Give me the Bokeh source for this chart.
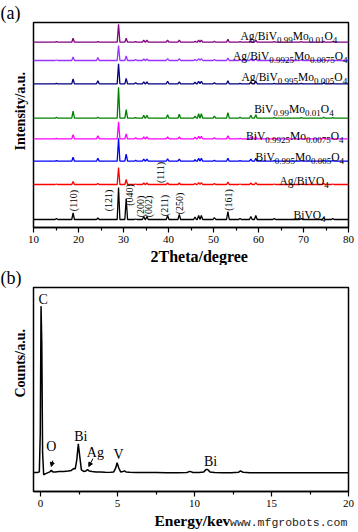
from bokeh.plotting import figure
from bokeh.models import Range1d, FixedTicker, Arrow, NormalHead, ColumnDataSource, Title, Div
from bokeh.layouts import column
from bokeh.embed import file_html
from bokeh.resources import INLINE
from bokeh.core.properties import value

SERIF = "Liberation Serif"

# ---------------- Panel (a): XRD patterns ----------------
peak_2theta = [15.1, 18.8, 24.3, 28.9, 30.6, 32.7, 34.5, 35.2, 39.8, 42.4, 45.9,
               46.7, 47.3, 50.2, 53.2, 55.9, 58.3, 59.4, 63.5, 69.5, 74.5, 76.5]

h_bivo4      = [1, 6.5, 1.5, 32, 21, 0.5, 3, 3, 4, 5, 2.5, 4, 4, 2, 8, 1, 3, 4, 1, 1, 2, 1]
h_ag_bivo4   = [0.5, 3, 1, 17, 5, 0.5, 1.5, 1.5, 1.5, 1.5, 1, 2, 2, 1, 2.5, 0.5, 1.5, 2, 0.5, 0.5, 1, 0.5]
h_mo005      = [0.5, 4, 3, 23, 7, 1, 2, 2, 2.5, 2, 1.5, 3, 3, 1, 3, 0.5, 2, 3, 0.5, 0.5, 1, 0.5]
h_mo0075     = [0.5, 4, 3, 17, 5, 1, 2, 2, 2, 2, 1.5, 2.5, 2.5, 1, 3, 0.5, 2, 2, 0.5, 0.5, 1, 0.5]
h_mo01       = [1, 7, 1, 31, 8.5, 0.5, 3, 3, 3.5, 4, 2, 4.5, 4.5, 2, 5.5, 1, 3, 3.5, 0.5, 0.5, 1, 0.5]
h_ag_mo005   = [0.5, 5, 3, 20, 5.5, 1, 2, 2, 2.5, 2, 1.5, 2.5, 2.5, 1, 3, 0.5, 2, 2.5, 0.5, 0.5, 1, 0.5]
h_ag_mo0075  = [0.5, 3.5, 3, 15, 4.5, 1, 1.5, 1.5, 2, 2, 1, 2, 2, 1, 2.5, 0.5, 1.5, 2, 0.5, 0.5, 1, 0.5]
h_ag_mo01    = [0.5, 4, 0.5, 18, 4, 0.5, 2, 2, 2, 2, 1, 2, 2, 1, 3, 0.5, 1.5, 2, 0.5, 0.5, 1, 0.5]

series_heights = [h_bivo4, h_ag_bivo4, h_mo005, h_mo0075, h_mo01, h_ag_mo005, h_ag_mo0075, h_ag_mo01]
series_offsets = [8, 43, 66.3, 88.7, 109.3, 143.7, 167, 185.3]
series_colors = ["#000000", "#FF0000", "#0000FF", "#FF00FF", "#008000", "#000080", "#9933FF", "#800080"]

# series labels: (parts, right-edge 2theta, baseline y)
series_labels = [
    ([("BiVO", 0), ("4", 1)], 74.9, 12.7),
    ([("Ag/BiVO", 0), ("4", 1)], 75.6, 46.3),
    ([("BiV", 0), ("0.995", 1), ("Mo", 0), ("0.005", 1), ("O", 0), ("4", 1)], 79.0, 70.3),
    ([("BiV", 0), ("0.9925", 1), ("Mo", 0), ("0.0075", 1), ("O", 0), ("4", 1)], 78.9, 92.0),
    ([("BiV", 0), ("0.99", 1), ("Mo", 0), ("0.01", 1), ("O", 0), ("4", 1)], 76.7, 118.7),
    ([("Ag/BiV", 0), ("0.995", 1), ("Mo", 0), ("0.005", 1), ("O", 0), ("4", 1)], 79.7, 150.3),
    ([("Ag/BiV", 0), ("0.9925", 1), ("Mo", 0), ("0.0075", 1), ("O", 0), ("4", 1)], 79.8, 172.0),
    ([("Ag/BiV", 0), ("0.99", 1), ("Mo", 0), ("0.01", 1), ("O", 0), ("4", 1)], 77.5, 191.5),
]

hkl_text = ["(110)", "(121)", "(040)", "(200)", "(002)", "(211)", "(250)", "(161)", "(111)"]
hkl_x = [18.8, 26.7, 31.3, 33.8, 35.5, 39.2, 42.4, 53.3, 38.2]
hkl_y = [27, 27, 32.5, 21, 21, 22, 24, 27.5, 55]

xrd_ticks = [10, 20, 30, 40, 50, 60, 70, 80]
xrd_minor = [15, 25, 35, 45, 55, 65, 75]

# ---------------- Panel (b): EDS spectrum ----------------
energy = [-0.45, -0.2, -0.08, -0.02, 0.03, 0.08, 0.13, 0.2, 0.3, 0.45, 0.6, 0.7, 0.8, 0.95,
          1.2, 1.5, 1.8, 2.0, 2.15, 2.25, 2.35, 2.45, 2.55, 2.65, 2.8, 2.95, 3.05, 3.15,
          3.35, 3.6, 3.9, 4.2, 4.5, 4.75, 4.88, 4.97, 5.08, 5.2, 5.35, 5.45, 5.55, 5.8,
          6.2, 6.8, 7.5, 8.2, 8.9, 9.5, 9.7, 9.9, 10.3, 10.6, 10.75, 10.85, 11.0, 11.3,
          11.8, 12.4, 12.85, 12.98, 13.15, 13.6, 14.5, 15.5, 16.5, 17.5, 18.5, 19.5, 20.0]
counts = [19.3, 19.3, 20, 60, 189, 150, 40, 17, 18, 19, 20, 21.5, 20, 20,
          20.3, 20.5, 21, 21.5, 23.5, 23, 32, 48.5, 35, 22, 20.5, 21, 22.5, 21,
          20.5, 20, 19.8, 19.6, 19.5, 20, 24, 29.3, 24, 20, 20.3, 21, 20, 19.6,
          19.4, 19.3, 19.3, 19.2, 19.2, 19.4, 20.5, 19.4, 19.3, 20, 22.5, 22.5, 20, 19.3,
          19.2, 19.2, 19.6, 21, 19.6, 19.2, 19.2, 19.2, 19.2, 19.2, 19.2, 19.2, 19.2]

eds_text = ["C", "O", "Bi", "Ag", "V", "Bi"]
eds_x = [0.17, 0.70, 2.61, 3.56, 5.06, 11.04]
eds_y = [196, 46, 56.3, 39.5, 38, 31]

eds_ticks = [0, 5, 10, 15, 20]
eds_minor = [2.5, 7.5, 12.5, 17.5]

# Times (Liberation Serif) advance widths, in em
TW = {'A': .722, 'g': .5, '/': .278, 'B': .667, 'i': .278, 'V': .722, 'M': .889,
      'o': .5, 'O': .722, '.': .25}
for d in "0123456789":
    TW[d] = .5

MAIN_PX = 11.5
SUB_PX = 9.0
SUB_DROP = 4.0


def style_frame(p, panel_tag, ylab, ylab_offset, xlab, xlab_offset, xlab_size):
    p.xgrid.visible = False
    p.ygrid.visible = False
    p.yaxis.visible = False
    p.outline_line_color = "black"
    p.outline_line_width = 1.5
    p.outline_line_alpha = 1.0
    p.background_fill_color = "white"
    p.border_fill_color = "white"
    ax = p.xaxis[0]
    ax.axis_line_color = "black"
    ax.axis_line_width = 1.5
    ax.major_tick_in = 0
    ax.major_tick_out = 5
    ax.minor_tick_in = 0
    ax.minor_tick_out = 3
    ax.major_tick_line_width = 1.2
    ax.minor_tick_line_width = 1.2
    ax.major_label_text_font = SERIF
    ax.major_label_text_font_size = "11px"
    ax.major_label_text_color = "black"
    ax.major_label_standoff = 3
    # panel tag "(a)" / "(b)"
    p.title.text = panel_tag
    p.title.align = "left"
    p.title.offset = -33
    p.title.standoff = 0
    p.title.text_font = SERIF
    p.title.text_font_size = "18px"
    p.title.text_font_style = "normal"
    p.title.text_color = "black"
    # y label (starts 'offset' px above the frame bottom)
    p.add_layout(Title(text=ylab, align="left", offset=ylab_offset, standoff=12,
                       text_font=SERIF, text_font_size="14px", text_font_style="bold",
                       text_color="black"), "left")
    # x label (starts 'offset' px right of the frame left)
    p.add_layout(Title(text=xlab, align="left", offset=xlab_offset, standoff=0,
                       text_font=SERIF, text_font_size=xlab_size, text_font_style="bold",
                       text_color="black"), "below")


# ---------------- build panel (a) ----------------
pa = figure(width=358, height=265, output_backend="svg", toolbar_location=None,
            x_range=Range1d(10, 80), y_range=Range1d(0, 205),
            min_border_left=33, min_border_right=10, min_border_top=22, min_border_bottom=38)
style_frame(pa, "(a)", "Intensity/a.u.", 77, "2Theta/degree", 117, "16px")
pa.xaxis[0].ticker = FixedTicker(ticks=xrd_ticks, minor_ticks=xrd_minor)

HW = 0.3
for heights, off, col in zip(series_heights, series_offsets, series_colors):
    xs, ys = [10.0], [off]
    for pk, h in zip(peak_2theta, heights):
        xs += [pk - HW, pk, pk + HW]
        ys += [off, off + h, off]
    xs.append(80.0)
    ys.append(off)
    pa.line(xs, ys, line_color=col, line_width=1.3)

# formula labels with subscripts, right-aligned
main_src = dict(x=[], y=[], t=[], dx=[])
sub_src = dict(x=[], y=[], t=[], dx=[])
for parts, xr, yb in series_labels:
    widths = []
    for txt, is_sub in parts:
        size = SUB_PX if is_sub else MAIN_PX
        widths.append(sum(TW[c] for c in txt) * size)
    total = sum(widths)
    cur = -total
    for (txt, is_sub), w in zip(parts, widths):
        d = sub_src if is_sub else main_src
        d["x"].append(xr)
        d["y"].append(yb)
        d["t"].append(txt)
        d["dx"].append(cur)
        cur += w

pa.text(x="x", y="y", text="t", x_offset="dx", source=ColumnDataSource(main_src),
        text_font=value(SERIF), text_font_size=value(f"{MAIN_PX}px"), text_color="black",
        text_align="left", text_baseline="alphabetic")
pa.text(x="x", y="y", text="t", x_offset="dx", y_offset=SUB_DROP, source=ColumnDataSource(sub_src),
        text_font=value(SERIF), text_font_size=value(f"{SUB_PX}px"), text_color="black",
        text_align="left", text_baseline="alphabetic")

pa.text(x=hkl_x, y=hkl_y, text=hkl_text, angle=1.5708,
        text_font=value(SERIF), text_font_size=value("10px"), text_color="black",
        text_align="center", text_baseline="middle")

# ---------------- build panel (b) ----------------
pb = figure(width=358, height=267, output_backend="svg", toolbar_location=None,
            x_range=Range1d(-0.46, 20), y_range=Range1d(0, 208),
            min_border_left=33, min_border_right=10, min_border_top=18, min_border_bottom=41)
style_frame(pb, "(b)", "Counts/a.u.", 94, "Energy/kev", 121, "15.5px")
pb.xaxis[0].ticker = FixedTicker(ticks=eds_ticks, minor_ticks=eds_minor)

pb.line(energy, counts, line_color="black", line_width=1.5)
pb.text(x=eds_x, y=eds_y, text=eds_text,
        text_font=value(SERIF), text_font_size=value("14px"), text_color="black",
        text_align="center", text_baseline="middle")

pb.add_layout(Arrow(x_start=0.79, y_start=31.5, x_end=0.70, y_end=25.5, line_width=1,
                    end=NormalHead(size=4, fill_color="black", line_color="black")))
pb.add_layout(Arrow(x_start=3.40, y_start=33.5, x_end=3.13, y_end=25.5, line_width=1,
                    end=NormalHead(size=4, fill_color="black", line_color="black")))

watermark = Div(text='<span style="font-family:\'Liberation Mono\';font-size:11.5px;'
                     'color:#222222;white-space:nowrap">www.mfgrobots.com</span>',
                width=125, height=14, margin=(-18, 0, 0, 230))

layout = column(pa, pb, watermark, spacing=0)
open("out.html", "w").write(file_html(layout, INLINE))
